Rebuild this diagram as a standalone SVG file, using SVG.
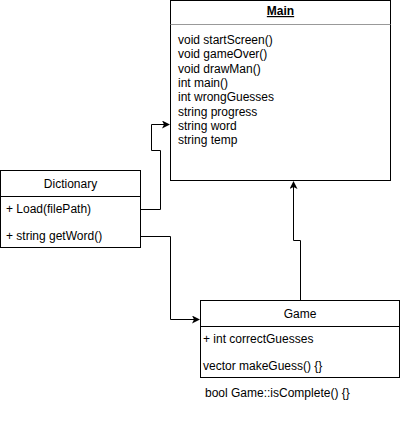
<svg xmlns="http://www.w3.org/2000/svg" width="401" height="424" viewBox="0 0 401 424">
<defs>
<style>
.box{fill:#fff;stroke:#000;stroke-width:1}
.sep{stroke:#000;stroke-width:1}
.sepg{stroke:#999;stroke-width:1}
.t{font-family:"Liberation Sans",Arial,sans-serif;font-size:12px;fill:#000}
.c{text-anchor:middle}
.edge{fill:none;stroke:#000;stroke-width:1}
</style>
<marker id="arr" markerWidth="10" markerHeight="10" refX="7" refY="4" orient="auto" markerUnits="userSpaceOnUse">
<path d="M0,0 L8,4 L0,8 L2,4 Z" fill="#000"/>
</marker>
</defs>
<rect width="401" height="424" fill="#fff"/>
<g id="connectors">
<path class="edge" d="M140.5,209.5 H160.5 V150.5 H151.5 V124.5 H169" marker-end="url(#arr)"/>
<path class="edge" d="M300.5,300 V240.5 H293.5 V182" marker-end="url(#arr)"/>
<path class="edge" d="M140.5,236.5 H170.5 V319.5 H199" marker-end="url(#arr)"/>
</g>
<g id="main">
<rect class="box" x="170.5" y="0.5" width="220" height="180"/>
<line class="sepg" x1="170.5" y1="24.5" x2="390.5" y2="24.5"/>
<text class="t c" x="280.5" y="15" font-weight="bold" text-decoration="underline">Main</text>
<text class="t" x="178" y="44">void startScreen()</text>
<text class="t" x="178" y="58.3">void gameOver()</text>
<text class="t" x="178" y="72.6">void drawMan()</text>
<text class="t" x="178" y="86.9">int main()</text>
<text class="t" x="178" y="101.2">int wrongGuesses</text>
<text class="t" x="178" y="115.5">string progress</text>
<text class="t" x="178" y="129.8">string word</text>
<text class="t" x="178" y="144.1">string temp</text>
</g>
<g id="dictionary">
<rect class="box" x="0.5" y="170.5" width="140" height="77"/>
<line class="sep" x1="0.5" y1="196.5" x2="140.5" y2="196.5"/>
<text class="t c" x="70.5" y="188">Dictionary</text>
<text class="t" x="6" y="213">+ Load(filePath)</text>
<text class="t" x="6" y="240">+ string getWord()</text>
</g>
<g id="game">
<rect class="box" x="200.5" y="300.5" width="199" height="77"/>
<line class="sep" x1="200.5" y1="326.5" x2="399.5" y2="326.5"/>
<text class="t c" x="300" y="318">Game</text>
<text class="t" x="203" y="343">+ int correctGuesses</text>
<text class="t" x="203" y="370">vector makeGuess() {}</text>
<text class="t" x="205" y="397">bool Game::isComplete() {}</text>
</g>
</svg>
